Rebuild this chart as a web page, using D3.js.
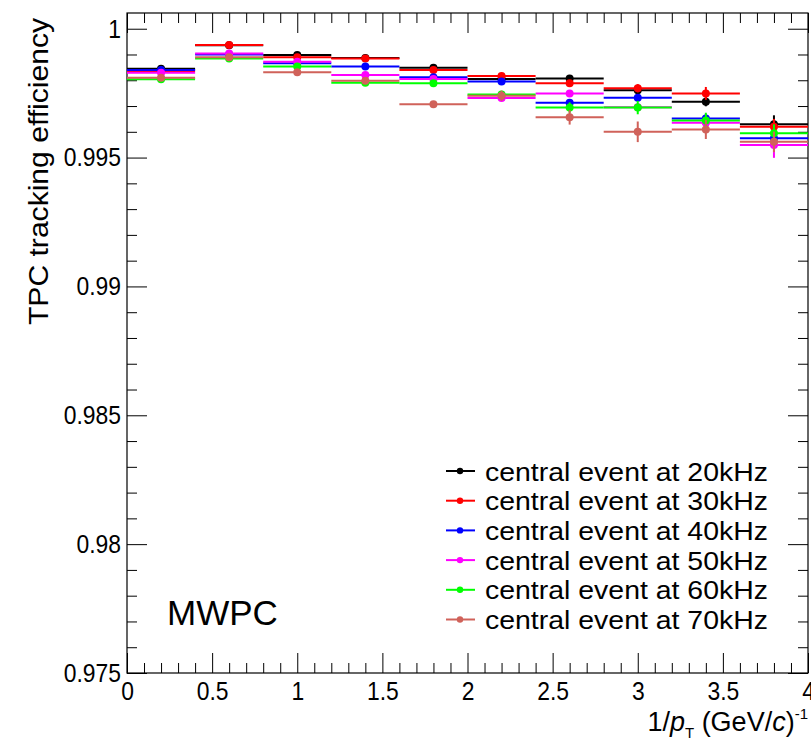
<!DOCTYPE html>
<html>
<head>
<meta charset="utf-8">
<script src="https://cdn.jsdelivr.net/npm/d3@7"></script>
<style>
  body { margin: 0; background: #fff; }
  text { font-family: "Liberation Sans", Arial, Helvetica, sans-serif; fill: #000; }
  .axis path { display: none; }
  .axis line { stroke: #000; stroke-width: 1; }
</style>
</head>
<body>
<div id="chart"></div>
<script>
// bins in 1/pT, width 0.4
var binCenters = [0.2, 0.6, 1.0, 1.4, 1.8, 2.2, 2.6, 3.0, 3.4, 3.8];
var binHalf = 0.2;

var seriesNames = ["central event at 20kHz", "central event at 30kHz", "central event at 40kHz",
                   "central event at 50kHz", "central event at 60kHz", "central event at 70kHz"];
var seriesColors = ["#000000", "#ff0000", "#0000ff", "#ff00ff", "#00ff00", "#d0625a"];

var eff20 = [0.99845, 0.99936, 0.99898, 0.99886, 0.99849, 0.99805, 0.99807, 0.99761, 0.99717, 0.99629];
var eff30 = [0.99835, 0.99937, 0.99889, 0.99884, 0.99840, 0.99817, 0.99788, 0.99769, 0.99749, 0.99620];
var eff40 = [0.99840, 0.99900, 0.99866, 0.99853, 0.99812, 0.99795, 0.99713, 0.99732, 0.99652, 0.99575];
var eff50 = [0.99829, 0.99904, 0.99872, 0.99820, 0.99805, 0.99731, 0.99749, 0.99695, 0.99635, 0.99549];
var eff60 = [0.99804, 0.99884, 0.99853, 0.99790, 0.99788, 0.99745, 0.99694, 0.99694, 0.99644, 0.99594];
var eff70 = [0.99810, 0.99889, 0.99831, 0.99798, 0.99707, 0.99740, 0.99656, 0.99600, 0.99609, 0.99561];

var err20 = [0.00004, 0.00004, 0.00005, 0.00005, 0.00006, 0.00008, 0.00010, 0.00012, 0.00018, 0.00035];
var err30 = [0.00004, 0.00004, 0.00005, 0.00005, 0.00006, 0.00008, 0.00010, 0.00016, 0.00025, 0.00030];
var err40 = [0.00004, 0.00004, 0.00005, 0.00005, 0.00006, 0.00008, 0.00010, 0.00012, 0.00018, 0.00030];
var err50 = [0.00004, 0.00004, 0.00005, 0.00005, 0.00006, 0.00008, 0.00010, 0.00014, 0.00020, 0.00050];
var err60 = [0.00004, 0.00004, 0.00005, 0.00005, 0.00006, 0.00010, 0.00020, 0.00026, 0.00030, 0.00035];
var err70 = [0.00004, 0.00004, 0.00006, 0.00006, 0.00010, 0.00020, 0.00028, 0.00040, 0.00037, 0.00040];

var xMajorTicks = [0, 0.5, 1, 1.5, 2, 2.5, 3, 3.5, 4];
var xTickLabels = ["0", "0.5", "1", "1.5", "2", "2.5", "3", "3.5", "4"];
var yMajorTicks = [0.975, 0.98, 0.985, 0.99, 0.995, 1];
var yTickLabels = ["0.975", "0.98", "0.985", "0.99", "0.995", "1"];

var allEff = [eff20, eff30, eff40, eff50, eff60, eff70];
var allErr = [err20, err30, err40, err50, err60, err70];

// frame in pixels ("top" is taken by window.top, so prefix them)
var fLeft = 127, fRight = 808, fTop = 13, fBottom = 673;

var svg = d3.select("#chart").append("svg")
    .attr("width", 811)
    .attr("height", 745);

var xScale = d3.scaleLinear().domain([0, 4]).range([fLeft, fRight]);
var yScale = d3.scaleLinear().domain([0.975, 1.00061]).range([fBottom, fTop]);

var xMinor = d3.range(0, 41).map(function(i) { return i / 10; })
    .filter(function(v) { return Math.abs(v * 2 - Math.round(v * 2)) > 1e-6; });
var yMinor = d3.range(0, 26).map(function(i) { return 0.975 + i * 0.001; })
    .filter(function(v) { return Math.abs(v * 200 - Math.round(v * 200)) > 1e-6; });

// bottom axis
svg.append("g")
    .attr("class", "axis")
    .attr("transform", "translate(0," + fBottom + ")")
    .call(d3.axisBottom(xScale).tickValues(xMajorTicks).tickSizeInner(-20).tickSizeOuter(0).tickPadding(9)
      .tickFormat(function(d, i) { return xTickLabels[i]; }))
    .selectAll("text")
      .style("font-size", "26px")
      .attr("transform", "scale(0.88,1)")
      .attr("x", 0);
svg.append("g")
    .attr("class", "axis")
    .attr("transform", "translate(0," + fBottom + ")")
    .call(d3.axisBottom(xScale).tickValues(xMinor).tickSizeInner(-10).tickSizeOuter(0).tickFormat(""));

// top axis
svg.append("g")
    .attr("class", "axis")
    .attr("transform", "translate(0," + fTop + ")")
    .call(d3.axisTop(xScale).tickValues(xMajorTicks).tickSizeInner(-20).tickSizeOuter(0).tickFormat(""));
svg.append("g")
    .attr("class", "axis")
    .attr("transform", "translate(0," + fTop + ")")
    .call(d3.axisTop(xScale).tickValues(xMinor).tickSizeInner(-10).tickSizeOuter(0).tickFormat(""));

// left axis
svg.append("g")
    .attr("class", "axis")
    .attr("transform", "translate(" + fLeft + ",0)")
    .call(d3.axisLeft(yScale).tickValues(yMajorTicks).tickSizeInner(-20).tickSizeOuter(0).tickPadding(6)
      .tickFormat(function(d, i) { return yTickLabels[i]; }))
    .selectAll("text")
      .style("font-size", "26px")
      .attr("transform", "scale(0.88,1)")
      .attr("x", -6 / 0.88);
svg.append("g")
    .attr("class", "axis")
    .attr("transform", "translate(" + fLeft + ",0)")
    .call(d3.axisLeft(yScale).tickValues(yMinor).tickSizeInner(-10).tickSizeOuter(0).tickFormat(""));

// right axis
svg.append("g")
    .attr("class", "axis")
    .attr("transform", "translate(" + fRight + ",0)")
    .call(d3.axisRight(yScale).tickValues(yMajorTicks).tickSizeInner(-20).tickSizeOuter(0).tickFormat(""));
svg.append("g")
    .attr("class", "axis")
    .attr("transform", "translate(" + fRight + ",0)")
    .call(d3.axisRight(yScale).tickValues(yMinor).tickSizeInner(-10).tickSizeOuter(0).tickFormat(""));

// frame
svg.append("rect")
    .attr("x", fLeft)
    .attr("y", fTop)
    .attr("width", fRight - fLeft)
    .attr("height", fBottom - fTop)
    .style("fill", "none")
    .style("stroke", "#000")
    .style("stroke-width", 1.2);

// draw series
allEff.forEach(function(eff, s) {
  var g = svg.append("g").attr("class", "series");
  var pts = binCenters.map(function(c, i) { return {x: c, y: eff[i], e: allErr[s][i]}; });

  g.selectAll(".hbar")
      .data(pts)
    .enter().append("line")
      .attr("x1", function(d) { return xScale(d.x - binHalf); })
      .attr("x2", function(d) { return xScale(d.x + binHalf); })
      .attr("y1", function(d) { return yScale(d.y); })
      .attr("y2", function(d) { return yScale(d.y); })
      .style("stroke", seriesColors[s])
      .style("stroke-width", 2);

  g.selectAll(".vbar")
      .data(pts)
    .enter().append("line")
      .attr("x1", function(d) { return xScale(d.x); })
      .attr("x2", function(d) { return xScale(d.x); })
      .attr("y1", function(d) { return yScale(d.y - d.e); })
      .attr("y2", function(d) { return yScale(d.y + d.e); })
      .style("stroke", seriesColors[s])
      .style("stroke-width", 2);

  g.selectAll(".dot")
      .data(pts)
    .enter().append("circle")
      .attr("cx", function(d) { return xScale(d.x); })
      .attr("cy", function(d) { return yScale(d.y); })
      .attr("r", 4)
      .style("fill", seriesColors[s]);
});

// legend
var legend = svg.selectAll(".legend")
    .data(seriesNames)
  .enter().append("g")
    .attr("class", "legend")
    .attr("transform", function(d, i) { return "translate(0," + (471 + i * 29.7) + ")"; });

legend.append("line")
    .attr("x1", 446)
    .attr("x2", 475)
    .style("stroke", function(d, i) { return seriesColors[i]; })
    .style("stroke-width", 2);

legend.append("circle")
    .attr("cx", 460)
    .attr("r", 3.2)
    .style("fill", function(d, i) { return seriesColors[i]; });

legend.append("text")
    .attr("x", 485)
    .attr("y", 9.5)
    .attr("textLength", 283)
    .attr("lengthAdjust", "spacingAndGlyphs")
    .style("font-size", "26px")
    .text(function(d) { return d; });

// MWPC label
svg.append("text")
    .attr("x", 167)
    .attr("y", 625)
    .style("font-size", "35px")
    .text("MWPC");

// y title
svg.append("text")
    .attr("transform", "translate(48,18) rotate(-90)")
    .style("text-anchor", "end")
    .style("font-size", "27px")
    .attr("textLength", 307)
    .attr("lengthAdjust", "spacingAndGlyphs")
    .text("TPC tracking efficiency");

// x title
var xt = svg.append("text")
    .attr("x", 808)
    .attr("y", 731)
    .style("text-anchor", "end")
    .style("font-size", "27px");
xt.append("tspan").text("1/");
xt.append("tspan").style("font-style", "italic").text("p");
xt.append("tspan").attr("dy", 7).style("font-size", "15px").text("T");
xt.append("tspan").attr("dy", -7).text(" (GeV/");
xt.append("tspan").style("font-style", "italic").text("c");
xt.append("tspan").text(")");
xt.append("tspan").attr("dy", -12).style("font-size", "15px").text("-1");
</script>
</body>
</html>
